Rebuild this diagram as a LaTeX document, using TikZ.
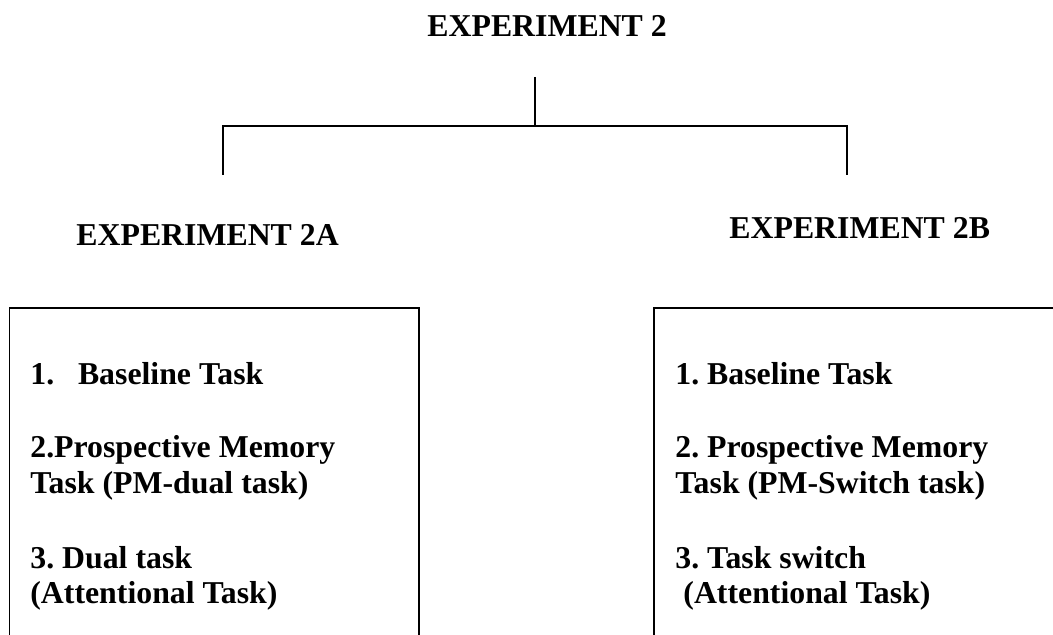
\documentclass[tikz,border=0pt]{standalone}
\usepackage{fontspec}
\setmainfont{Liberation Serif}
\frenchspacing

\begin{document}
\begin{tikzpicture}[x = 0.5pt, y = -0.5pt,
  txt/.style = {black, anchor = base west, inner sep = 0pt, font = \fontsize{15.9}{19}\selectfont\bfseries},
  branch/.style = {black, line width = 1pt},
  frame/.style = {black, line width = 0.75pt}]
\useasboundingbox (0, 0) rectangle (1053, 635);
\clip (0, 0) rectangle (1053, 635);
% headings
\node[txt] (exp) at (427, 36.5){EXPERIMENT 2};
\node[txt] (expa) at (76, 246){EXPERIMENT 2A};
\node[txt] (expb) at (729, 239){EXPERIMENT 2B};
% tree
\coordinate (top) at (535, 77);
\coordinate (split) at (535, 126);
\coordinate (lft) at (222.7, 175);
\coordinate (rgt) at (847, 175);
\draw[branch] (top) -- (split);
\draw[branch] (lft) |- (split) -| (rgt);
% boxes
\draw[frame] (9.5, 680) rectangle (419, 308);
\draw[frame] (654, 680) rectangle (1100, 308);
% left box
\node[txt] (a1) at (30, 385){1.\hspace{11.9pt}Baseline Task};
\node[txt] (a2) at (30, 458){2.Prospective Memory};
\node[txt] (a3) at (30, 493){Task (PM-dual task)};
\node[txt] (a4) at (30, 568){3. Dual task};
\node[txt] (a5) at (30, 603){(Attentional Task)};
% right box
\node[txt] (b1) at (675, 385){1. Baseline Task};
\node[txt] (b2) at (675, 458){2. Prospective Memory};
\node[txt] (b3) at (675, 493){Task (PM-Switch task)};
\node[txt] (b4) at (675, 568){3. Task switch};
\node[txt] (b5) at (683, 603){(Attentional Task)};
\end{tikzpicture}
\end{document}
